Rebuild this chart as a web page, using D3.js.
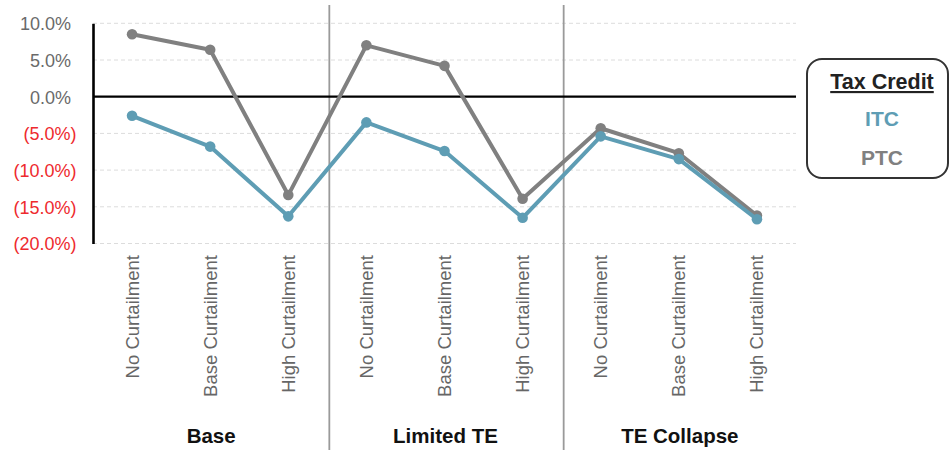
<!DOCTYPE html>
<html>
<head>
<meta charset="utf-8">
<script src="https://cdn.jsdelivr.net/npm/d3@7"></script>
<style>
  html, body { margin: 0; padding: 0; background: #fff; }
  svg { display: block; }
</style>
</head>
<body>
<svg id="chart" width="950" height="450"></svg>
<script>
// Scenario groups and the curtailment cases within each
const groups = ["Base", "Limited TE", "TE Collapse"];
const cases = ["No Curtailment", "Base Curtailment", "High Curtailment"];

// Change in value (%) per scenario/case, in group order
const itcValues = [-2.6, -6.8, -16.3, -3.5, -7.4, -16.5, -5.4, -8.5, -16.7];
const ptcValues = [8.5, 6.4, -13.4, 7.0, 4.2, -13.9, -4.3, -7.7, -16.2];

const yTicks = [10, 5, 0, -5, -10, -15, -20];

const seriesNames = ["ITC", "PTC"];
const seriesColors = { ITC: "#5e9db4", PTC: "#808080" };

const svg = d3.select("#chart");
const font = "'Liberation Sans', Arial, sans-serif";

const plot = { left: 93, right: 796, top: 23.3, bottom: 243.5 };

const categories = [];
groups.forEach(g => cases.forEach(c => categories.push(g + "|" + c)));

const x = d3.scaleBand().domain(categories).range([plot.left, plot.right]).padding(0);
const y = d3.scaleLinear().domain([-20, 10]).range([plot.bottom, plot.top]);
const cx = k => x(k) + x.bandwidth() / 2;

// Dashed horizontal gridlines
svg.append("g")
  .selectAll("line")
  .data(yTicks.filter(t => t !== 0))
  .join("line")
  .attr("x1", plot.left).attr("x2", plot.right)
  .attr("y1", d => y(d)).attr("y2", d => y(d))
  .attr("stroke", "#dcdcdc").attr("stroke-width", 1)
  .attr("stroke-dasharray", "4,3");

// Separators between scenario groups
const sepX = [3, 6].map(i => x(categories[i]) + 2);
svg.append("g")
  .selectAll("line")
  .data(sepX)
  .join("line")
  .attr("x1", d => d).attr("x2", d => d)
  .attr("y1", 5).attr("y2", 450)
  .attr("stroke", "#9a9a9a").attr("stroke-width", 1.8);

// Zero line
svg.append("line")
  .attr("x1", plot.left).attr("x2", plot.right)
  .attr("y1", y(0)).attr("y2", y(0))
  .attr("stroke", "#000").attr("stroke-width", 2.2);

// Y axis
const yAxis = d3.axisLeft(y).tickValues(yTicks).tickSize(0).tickPadding(0)
  .tickFormat(d => d < 0 ? "(" + Math.abs(d).toFixed(1) + "%)" : d.toFixed(1) + "%");
const yg = svg.append("g").attr("transform", `translate(${plot.left},0)`).call(yAxis);
yg.select(".domain").attr("stroke", "#000").attr("stroke-width", 2.6);
yg.selectAll(".tick text")
  .attr("x", d => d < 0 ? -16.5 : -22)
  .attr("dy", "0.35em")
  .attr("font-family", font)
  .attr("font-size", 18)
  .attr("fill", d => d < 0 ? "#ee2a2e" : "#6a6a6a");

// Category labels (rotated)
svg.append("g")
  .selectAll("text")
  .data(categories)
  .join("text")
  .attr("transform", d => `translate(${cx(d)},255) rotate(-90)`)
  .attr("dy", "0.35em")
  .attr("text-anchor", "end")
  .attr("font-family", font)
  .attr("font-size", 18.5)
  .attr("fill", "#666")
  .text(d => d.split("|")[1]);

// Group labels
svg.append("g")
  .selectAll("text")
  .data(groups)
  .join("text")
  .attr("x", (g, i) => cx(categories[i * 3 + 1]) + 1)
  .attr("y", 443)
  .attr("text-anchor", "middle")
  .attr("font-family", font)
  .attr("font-weight", "bold")
  .attr("font-size", 20.5)
  .attr("fill", "#111")
  .text(d => d);

// Series lines and markers
const series = [
  { name: "PTC", values: ptcValues },
  { name: "ITC", values: itcValues }
];
const line = d3.line().x((d, i) => cx(categories[i])).y(d => y(d));
series.forEach(s => {
  const g = svg.append("g");
  g.append("path")
    .attr("d", line(s.values))
    .attr("fill", "none")
    .attr("stroke", seriesColors[s.name])
    .attr("stroke-width", 4)
    .attr("stroke-linejoin", "round");
  g.selectAll("circle")
    .data(s.values)
    .join("circle")
    .attr("cx", (d, i) => cx(categories[i]))
    .attr("cy", d => y(d))
    .attr("r", 5.3)
    .attr("fill", seriesColors[s.name]);
});

// Legend
const legend = svg.append("g");
legend.append("rect")
  .attr("x", 807).attr("y", 59)
  .attr("width", 141).attr("height", 119)
  .attr("rx", 15).attr("ry", 15)
  .attr("fill", "#fff")
  .attr("stroke", "#333").attr("stroke-width", 2);
const legendX = 882;
legend.append("text")
  .attr("x", legendX).attr("y", 89)
  .attr("text-anchor", "middle")
  .attr("font-family", font)
  .attr("font-weight", "bold")
  .attr("font-size", 21.5)
  .attr("fill", "#222")
  .attr("text-decoration", "underline")
  .text("Tax Credit");
legend.selectAll("text.item")
  .data(seriesNames)
  .join("text")
  .attr("class", "item")
  .attr("x", legendX)
  .attr("y", (d, i) => 126 + i * 39)
  .attr("text-anchor", "middle")
  .attr("font-family", font)
  .attr("font-weight", "bold")
  .attr("font-size", 21)
  .attr("fill", d => seriesColors[d])
  .text(d => d);
</script>
</body>
</html>
